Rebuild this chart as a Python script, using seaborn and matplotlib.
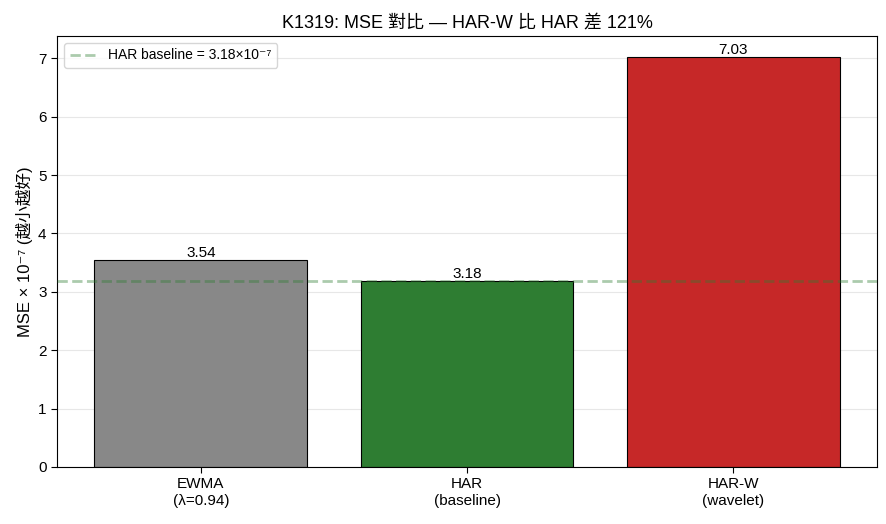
import matplotlib
matplotlib.use('Agg')
import matplotlib.pyplot as plt
import seaborn as sns
import pandas as pd

# data
models = ['EWMA\n(λ=0.94)', 'HAR\n(baseline)', 'HAR-W\n(wavelet)']
mse_e7 = [3.54, 3.18, 7.03]
colors = ['#888888', '#2e7d32', '#c62828']
baseline = 3.18

sns.set_style('white')
plt.rcParams['font.family'] = ['Liberation Sans', 'Noto Sans CJK TC', 'DejaVu Sans']
plt.rcParams['axes.unicode_minus'] = False
plt.rcParams['text.color'] = 'black'
plt.rcParams['axes.labelcolor'] = 'black'
plt.rcParams['xtick.color'] = 'black'
plt.rcParams['ytick.color'] = 'black'

df = pd.DataFrame({'model': models, 'mse': mse_e7})

fig, ax = plt.subplots(figsize=(8.87, 5.24), dpi=100)
sns.barplot(data=df, x='model', y='mse', hue='model', palette=colors,
            edgecolor='black', linewidth=0.8, width=0.8, saturation=1,
            legend=False, ax=ax, zorder=2)

ax.axhline(baseline, color='#2e7d32', alpha=0.4, linestyle='--', linewidth=2,
           label=f'HAR baseline = {baseline:.2f}×10⁻⁷', zorder=3)

for cont in ax.containers:
    ax.bar_label(cont, fmt='%.2f', fontsize=11, padding=0, color='black')

ax.set_xlim(-0.54, 2.54)
ax.set_ylim(0, max(mse_e7) * 1.05)
ax.set_xlabel('')
ax.set_ylabel('MSE × 10⁻⁷ (越小越好)', fontsize=12)
ax.set_title('K1319: MSE 對比 — HAR-W 比 HAR 差 121%', fontsize=13)
ax.tick_params(axis='both', labelsize=11, length=4, left=True, bottom=True)
ax.yaxis.grid(True, color='#b0b0b0', alpha=0.3, linewidth=0.8, zorder=0)
ax.set_axisbelow(True)
for s in ax.spines.values():
    s.set_color('black')
    s.set_linewidth(0.8)
ax.legend(loc='upper left', fontsize=10)

plt.subplots_adjust(left=0.0643, right=0.9887, top=0.9313, bottom=0.1088)
plt.savefig('out.png', dpi=100)
